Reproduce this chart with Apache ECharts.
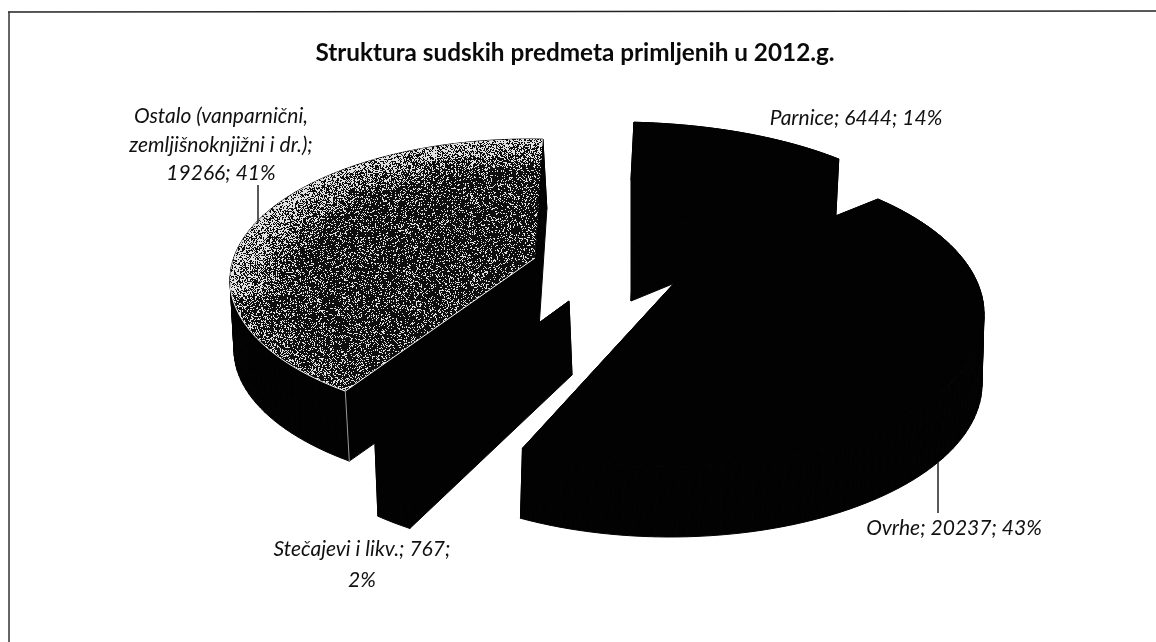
<!DOCTYPE html>
<html>
<head>
<meta charset="utf-8">
<style>html,body{margin:0;padding:0;background:#fff}#c{width:1156px;height:642px}</style>
<script src="https://cdn.jsdelivr.net/npm/echarts@6/dist/echarts.min.js"></script>
</head>
<body>
<div id="c"></div>
<script>
// ---- data ----
const chartTitle = 'Struktura sudskih predmeta primljenih u 2012.g.';
const categories = ['Parnice', 'Ovrhe', 'Stečajevi i likv.', 'Ostalo (vanparnični, zemljišnoknjižni i dr.)'];
const caseCounts = [6444, 20237, 767, 19266];
const percentLabels = ['14%', '43%', '2%', '41%'];
const labelLines = [
  ['Parnice; 6444; 14%'],
  ['Ovrhe; 20237; 43%'],
  ['Stečajevi i likv.; 767;', '2%'],
  ['Ostalo (vanparnični,', 'zemljišnoknjižni i dr.);', '19266; 41%']
];

// ---- drawing geometry of the exploded, tilted pie (per slice, perspective fitted) ----
const total = caseCounts.reduce((a, b) => a + b, 0);
const geometry = [
  {apex:[634,243], c:[615,252], rx:320, ry:130, start:3.4,   stretch:0.825, depth:58, dx:-3, z:1},
  {apex:[678,279], c:[672,314], rx:312, ry:153, start:41.3,  stretch:1.073, depth:70, dx:-2, z:4},
  {apex:[569,301], c:[560,310], rx:300, ry:168, start:210.7, stretch:1.25,  depth:74, dx:3,  z:3},
  {apex:[535,258], c:[530,280], rx:300, ry:141, start:218,   stretch:0.973, depth:70, dx:4,  z:2}
];
const labelPos = [
  {x:856,  ys:[118], lead:null},
  {x:954,  ys:[528], lead:[[938,462],[938,513]]},
  {x:362,  ys:[549,580], lead:null},
  {x:221,  ys:[116,145,173], lead:[[258,185],[258,223]]}
];

// deterministic speckle texture for the halftoned top face of the grey slice
function hash(x, y) {
  let h = (x * 374761393 + y * 668265263) | 0;
  h = Math.imul(h ^ (h >>> 13), 1274126177);
  return ((h ^ (h >>> 16)) >>> 0) / 4294967296;
}
function speckle() {
  const g = geometry[3];
  const cv = document.createElement('canvas');
  cv.width = 1156; cv.height = 642;
  const ctx = cv.getContext('2d');
  const img = ctx.createImageData(1156, 642);
  for (let y = 0; y < 642; y++) for (let x = 0; x < 1156; x++) {
    const dx = (x - g.c[0]) / g.rx, dy = (y - g.c[1]) / g.ry;
    const r = Math.sqrt(dx * dx + dy * dy);
    let d = 0.2 + 0.45 * Math.max(0, (r - 0.78) / 0.22);
    if (dy > 0.1) d = 0.2 + 0.15 * Math.max(0, (r - 0.85) / 0.15);
    const v = hash(x, y) < d ? 225 : 14;
    const i = (y * 1156 + x) * 4;
    img.data[i] = img.data[i + 1] = img.data[i + 2] = v;
    img.data[i + 3] = 255;
  }
  ctx.putImageData(img, 0, 0);
  return cv;
}
const texture = speckle();

function rim(g, deg) {
  const a = deg * Math.PI / 180;
  return [g.c[0] + g.rx * Math.sin(a), g.c[1] - g.ry * Math.cos(a)];
}
function down(g, p) { return [p[0] + g.dx, p[1] + g.depth]; }

function renderSlice(params, api) {
  const i = params.dataIndex;
  const g = geometry[i];
  const sweep = api.value(0) / total * 360 * g.stretch;
  const arc = [];
  const steps = Math.max(3, Math.ceil(sweep / 2));
  for (let k = 0; k <= steps; k++) arc.push(rim(g, g.start + sweep * k / steps));
  const black = {fill: '#020202', stroke: '#020202', lineWidth: 1};
  const kids = [];
  const poly = (pts, style, z) => kids.push({type: 'polygon', z2: z, shape: {points: pts}, style});
  // walls: rim band as one quad per step, then both cut faces
  for (let k = 0; k < steps; k++) {
    poly([arc[k], arc[k + 1], down(g, arc[k + 1]), down(g, arc[k])], black, g.z * 10);
  }
  poly([g.apex, arc[0], down(g, arc[0]), down(g, g.apex)], black, g.z * 10);
  poly([g.apex, arc[steps], down(g, arc[steps]), down(g, g.apex)], black, g.z * 10);
  // top face
  const face = [g.apex].concat(arc);
  if (i === 3) {
    poly(face, {fill: {image: texture, repeat: 'repeat'}, stroke: null}, g.z * 10 + 1);
    const edge = arc.filter((p, k) => sweep * k / steps < 50);
    kids.push({type: 'polyline', z2: g.z * 10 + 2, shape: {points: edge.slice().reverse().concat([g.apex])},
      style: {stroke: '#f4f4f4', lineWidth: 1, fill: null}});
    kids.push({type: 'line', z2: g.z * 10 + 2, shape: {x1: arc[0][0], y1: arc[0][1], x2: arc[0][0] + g.dx, y2: arc[0][1] + g.depth},
      style: {stroke: '#9a9a9a', lineWidth: 1}});
  } else {
    poly(face, black, g.z * 10 + 1);
  }
  // labels and leader lines
  const lp = labelPos[i];
  labelLines[i].forEach((t, n) => kids.push({
    type: 'text', z2: 100,
    style: {x: lp.x, y: lp.ys[n], text: t, align: 'center', verticalAlign: 'middle',
      font: 'italic 21px Lato', fill: '#111'}
  }));
  if (lp.lead) kids.push({type: 'line', z2: 90,
    shape: {x1: lp.lead[0][0], y1: lp.lead[0][1], x2: lp.lead[1][0], y2: lp.lead[1][1]},
    style: {stroke: '#222', lineWidth: 1.5}});
  return {type: 'group', children: kids};
}

const chart = echarts.init(document.getElementById('c'), null, {renderer: 'canvas'});
chart.setOption({
  animation: false,
  backgroundColor: '#fff',
  title: {
    text: chartTitle, left: 570, top: 36, textAlign: 'center',
    textStyle: {fontFamily: 'Lato', fontWeight: 'bold', fontSize: 24.3, color: '#0a0a0a'}
  },
  graphic: [
    {type: 'line', shape: {x1: 8, y1: 12, x2: 1156, y2: 11}, style: {stroke: '#222', lineWidth: 1.5}},
    {type: 'line', shape: {x1: 9, y1: 12, x2: 9, y2: 642}, style: {stroke: '#333', lineWidth: 1.5}}
  ],
  series: [{
    type: 'custom',
    coordinateSystem: 'none',
    renderItem: renderSlice,
    data: categories.map((name, i) => ({name, value: [caseCounts[i]]}))
  }]
});
</script>
</body>
</html>
